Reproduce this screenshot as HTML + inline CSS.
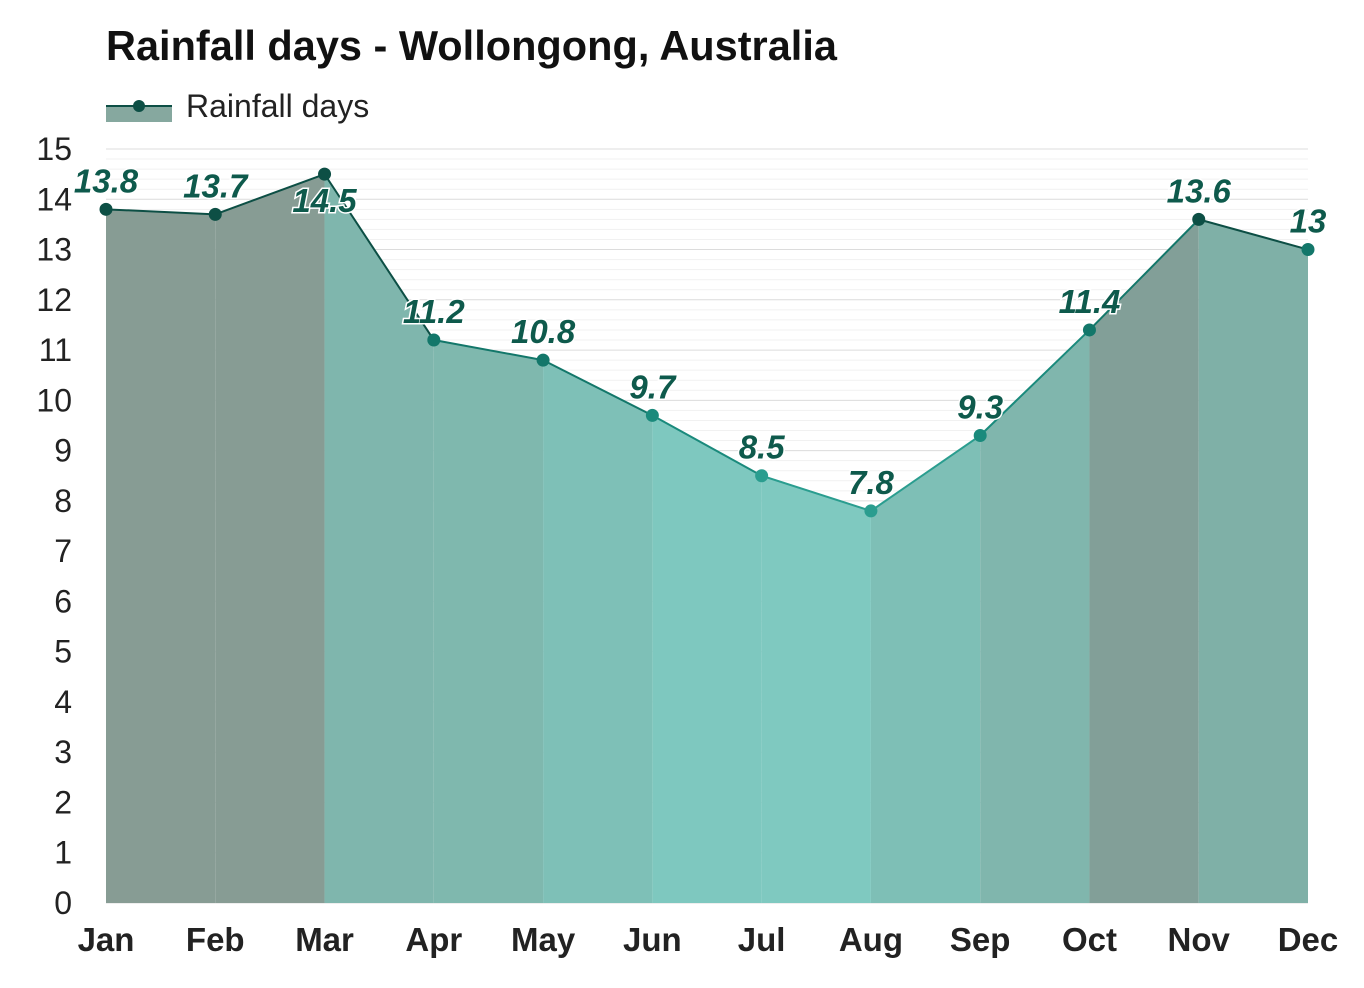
<!DOCTYPE html>
<html><head><meta charset="utf-8"><style>
body{margin:0;background:#fff;}
svg{display:block;font-family:"Liberation Sans",Arial,sans-serif;}
</style></head><body>
<svg id="chart" width="1364" height="988">
<text x="106" y="60" font-size="41.5" font-weight="bold" fill="#111">Rainfall days - Wollongong, Australia</text>
<g>
<rect x="106" y="106" width="66" height="16" fill="#86a89f"/>
<line x1="106" y1="106" x2="172" y2="106" stroke="#0d4f45" stroke-width="2"/>
<circle cx="139" cy="106" r="6" fill="#0d4f45"/>
<text x="186" y="117" font-size="32" fill="#222">Rainfall days</text>
</g>
<g id="grid"></g>
<g id="areas"></g>
<g id="lines"></g>
<g id="pts"></g>
<g id="yax"></g>
<g id="xax"></g>
</svg>
<script>
const months=["Jan","Feb","Mar","Apr","May","Jun","Jul","Aug","Sep","Oct","Nov","Dec"];
const values=[13.8,13.7,14.5,11.2,10.8,9.7,8.5,7.8,9.3,11.4,13.6,13];
const labels=["13.8","13.7","14.5","11.2","10.8","9.7","8.5","7.8","9.3","11.4","13.6","13"];
const yTicks=[0,1,2,3,4,5,6,7,8,9,10,11,12,13,14,15];
const segFill=["#879c94","#879c94","#7fb6ad","#7fb8ae","#7ec0b7","#7ec8bf","#7fc9c0","#7ebfb6","#80b6ad","#829f98","#7fb0a7"];
const ptColor=["#0d4f45","#0d4f45","#0d4f45","#13776a","#13776a","#1a8a7c","#2a9d8f","#2a9d8f","#1a8a7c","#13776a","#0d4f45","#13776a"];
const NS="http://www.w3.org/2000/svg";
const x=i=>106+i*(1308-106)/11;
const y=v=>903-v*(903-149)/15;
function mk(t,a,p){const e=document.createElementNS(NS,t);for(const k in a)e.setAttribute(k,a[k]);p.appendChild(e);return e;}
const grid=document.getElementById('grid');
for(let v=0;v<=15;v+=0.2){const l=mk('line',{x1:106,x2:1308,y1:y(v),y2:y(v),stroke:Math.abs(v-Math.round(v))<0.01?'#dcdcdc':'#f1f1f1','stroke-width':1},grid);

}
const areas=document.getElementById('areas'),lines=document.getElementById('lines'),pts=document.getElementById('pts');
for(let i=0;i<11;i++){
const p=mk('polygon',{points:`${x(i)},${y(0)} ${x(i)},${y(values[i])} ${x(i+1)},${y(values[i+1])} ${x(i+1)},${y(0)}`,fill:segFill[i]},areas);


const l=mk('line',{x1:x(i),y1:y(values[i]),x2:x(i+1),y2:y(values[i+1]),stroke:ptColor[i],'stroke-width':2},lines);

}
values.forEach((v,i)=>{
const c=mk('circle',{cx:x(i),cy:y(v),r:6.5,fill:ptColor[i]},pts);


const below=i===2;
const t=mk('text',{x:x(i),y:below?y(v)+38:y(v)-17,'text-anchor':'middle','font-size':33,'font-weight':'bold','font-style':'italic',fill:'#0e5a4c',stroke:'#fff','stroke-width':3,'paint-order':'stroke'},pts);
t.textContent=labels[i];

});
const yax=document.getElementById('yax');
yTicks.forEach(v=>{const t=mk('text',{x:72,y:y(v)+11,'text-anchor':'end','font-size':32,fill:'#222'},yax);t.textContent=v;

});
const xax=document.getElementById('xax');
months.forEach((m,i)=>{const t=mk('text',{x:x(i),y:951,'text-anchor':'middle','font-size':33,'font-weight':'bold',fill:'#222'},xax);t.textContent=m;

});
</script>
</body></html>
